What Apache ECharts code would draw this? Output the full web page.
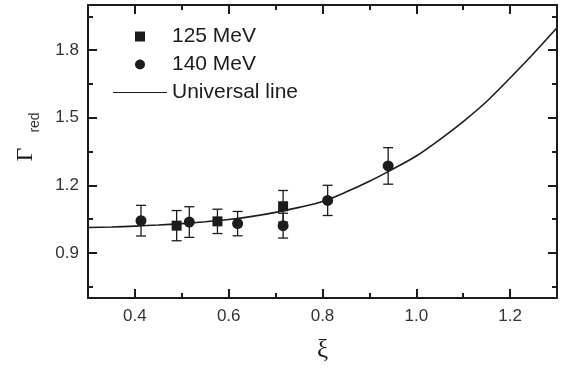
<!DOCTYPE html>
<html>
<head>
<meta charset="utf-8">
<script src="https://cdn.jsdelivr.net/npm/echarts@6/dist/echarts.min.js"></script>
<style>
html,body{margin:0;padding:0;background:#fff;}
#chart{width:570px;height:371px;}
</style>
</head>
<body>
<div id="chart"></div>
<script>
// ---- data ----
var xi125 = [0.489, 0.576, 0.716];
var gam125 = [1.021, 1.040, 1.107];
var err125 = [0.067, 0.054, 0.070];

var xi140 = [0.413, 0.516, 0.619, 0.716, 0.811, 0.940];
var gam140 = [1.043, 1.037, 1.030, 1.021, 1.133, 1.286];
var err140 = [0.068, 0.068, 0.054, 0.055, 0.067, 0.081];

var lineXi = [0.30, 0.35, 0.40, 0.45, 0.50, 0.55, 0.60, 0.65, 0.70, 0.75, 0.80, 0.85, 0.90, 0.95, 1.00, 1.05, 1.10, 1.15, 1.20, 1.25, 1.30];
var lineGam = [1.013, 1.015, 1.019, 1.024, 1.030, 1.038, 1.048, 1.062, 1.080, 1.102, 1.128, 1.170, 1.218, 1.272, 1.330, 1.403, 1.483, 1.572, 1.676, 1.785, 1.899];

var xMajor = [0.4, 0.6, 0.8, 1.0, 1.2];
var xMinor = [0.3, 0.5, 0.7, 0.9, 1.1, 1.3];
var yMajor = [0.9, 1.2, 1.5, 1.8];
var yMinor = [0.75, 1.05, 1.35, 1.65, 1.95];

var seriesNames = ['125 MeV', '140 MeV', 'Universal line'];

// ---- build ----
var INK = '#1c1c1c';
function zip(a, b) { return a.map(function (v, i) { return [v, b[i]]; }); }
function zip3(a, b, c) { return a.map(function (v, i) { return [v, b[i] - c[i], b[i] + c[i]]; }); }

function errRender(params, api) {
  var x = api.value(0);
  var lo = api.coord([x, api.value(1)]);
  var hi = api.coord([x, api.value(2)]);
  var hw = 5;
  var st = { stroke: INK, lineWidth: 1.3 };
  return {
    type: 'group',
    children: [
      { type: 'line', shape: { x1: lo[0], y1: lo[1], x2: hi[0], y2: hi[1] }, style: st },
      { type: 'line', shape: { x1: lo[0] - hw, y1: lo[1], x2: lo[0] + hw, y2: lo[1] }, style: st },
      { type: 'line', shape: { x1: hi[0] - hw, y1: hi[1], x2: hi[0] + hw, y2: hi[1] }, style: st }
    ]
  };
}

var axisBase = { type: 'value', splitLine: { show: false } };
function xAx(pos, ticks, len, showLine, labels) {
  return Object.assign({}, axisBase, {
    position: pos, min: 0.3, max: 1.3,
    axisLine: { show: showLine, onZero: false, lineStyle: { color: INK, width: 2 } },
    axisTick: { show: true, inside: true, length: len, customValues: ticks, lineStyle: { color: INK, width: 2 } },
    axisLabel: labels ? { show: true, customValues: ticks, margin: 10, fontSize: 17, color: '#333', fontFamily: 'Liberation Sans',
      formatter: function (v) { return (+v).toFixed(1); } } : { show: false }
  });
}
function yAx(pos, ticks, len, showLine, labels) {
  return Object.assign({}, axisBase, {
    position: pos, min: 0.7, max: 2.0,
    axisLine: { show: showLine, onZero: false, lineStyle: { color: INK, width: 2 } },
    axisTick: { show: true, inside: true, length: len, customValues: ticks, lineStyle: { color: INK, width: 2 } },
    axisLabel: labels ? { show: true, customValues: ticks, margin: 9, fontSize: 17, color: '#333', fontFamily: 'Liberation Sans',
      formatter: function (v) { return (+v).toFixed(1); } } : { show: false }
  });
}

var xAxes = [xAx('bottom', xMajor, 9, true, true), xAx('bottom', xMinor, 5, false, false),
             xAx('top', xMajor, 9, true, false), xAx('top', xMinor, 5, false, false)];
xAxes[0].name = 'ξ';
xAxes[0].nameLocation = 'middle';
xAxes[0].nameGap = 40;
xAxes[0].nameTextStyle = { fontFamily: 'Liberation Serif', fontSize: 25, color: INK };

var yAxes = [yAx('left', yMajor, 9, true, true), yAx('left', yMinor, 5, false, false),
             yAx('right', yMajor, 9, true, false), yAx('right', yMinor, 5, false, false)];

var option = {
  animation: false,
  backgroundColor: '#fff',
  grid: { left: 88, right: 13, top: 5, bottom: 73, containLabel: false },
  xAxis: xAxes,
  yAxis: yAxes,
  legend: {
    orient: 'vertical', left: 108, top: 21,
    itemWidth: 54, itemHeight: 10, itemGap: 7,
    data: [
      { name: seriesNames[0], icon: 'path://M0,0L10,0L10,10L0,10Z' },
      { name: seriesNames[1], icon: 'circle' },
      { name: seriesNames[2], icon: 'path://M0,0L54,0L54,1.2L0,1.2Z' }
    ],
    symbolKeepAspect: true,
    itemStyle: { color: INK, opacity: 1 },
    textStyle: { fontSize: 21, color: INK, fontFamily: 'Liberation Sans' }
  },
  graphic: [
    { type: 'text', x: 25.5, y: 154.5, rotation: Math.PI / 2,
      style: { text: 'Γ', font: '24px "Liberation Serif"', fill: INK, align: 'center', verticalAlign: 'middle' } },
    { type: 'text', x: 35, y: 122.5, rotation: Math.PI / 2,
      style: { text: 'red', font: '14px "Liberation Sans"', fill: '#333', align: 'center', verticalAlign: 'middle' } }
  ],
  series: [
    { name: seriesNames[2], type: 'line', data: zip(lineXi, lineGam), smooth: 0.3, symbol: 'none', showSymbol: false,
      lineStyle: { color: INK, width: 1.6 }, itemStyle: { color: INK }, z: 2 },
    { type: 'custom', renderItem: errRender, data: zip3(xi125, gam125, err125), z: 3, silent: true },
    { type: 'custom', renderItem: errRender, data: zip3(xi140, gam140, err140), z: 3, silent: true },
    { name: seriesNames[0], type: 'scatter', data: zip(xi125, gam125), symbol: 'rect', symbolSize: 10,
      itemStyle: { color: INK, opacity: 1 }, z: 4 },
    { name: seriesNames[1], type: 'scatter', data: zip(xi140, gam140), symbol: 'circle', symbolSize: 11,
      itemStyle: { color: INK, opacity: 1 }, z: 4 }
  ]
};

var chart = echarts.init(document.getElementById('chart'), null, { renderer: 'canvas' });
chart.setOption(option);
</script>
</body>
</html>
